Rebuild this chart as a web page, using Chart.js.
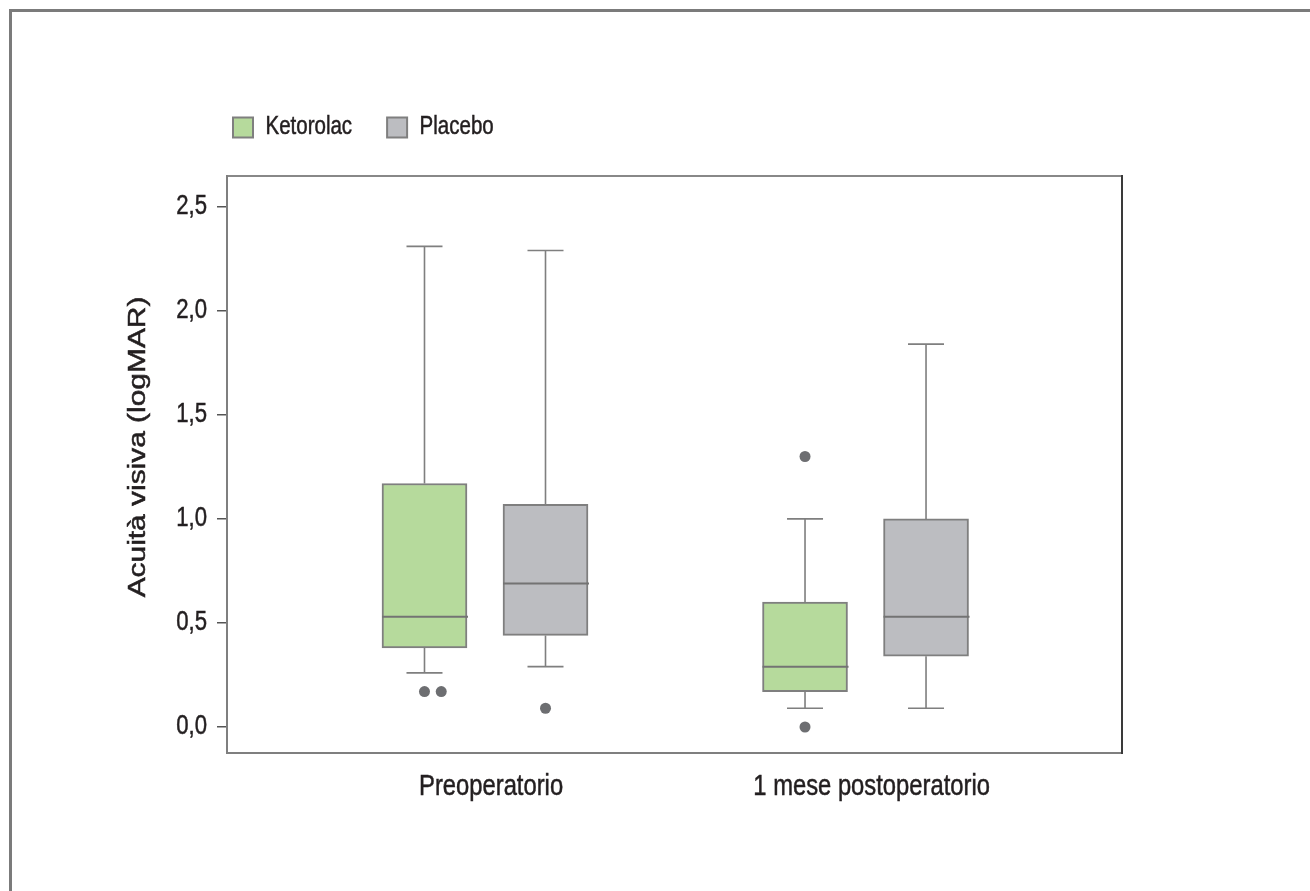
<!DOCTYPE html>
<html>
<head>
<meta charset="utf-8">
<title>Acuità visiva</title>
<script src="https://cdn.jsdelivr.net/npm/chart.js@4.4.1/dist/chart.umd.min.js"></script>
<style>
  html, body { margin: 0; padding: 0; background: #ffffff; overflow: hidden; }
  #wrap { position: relative; width: 1310px; height: 891px; }
  #frame { position: absolute; left: 9px; top: 9px; width: 1400px; height: 1000px;
           border-left: 3px solid #7b7b7b; border-top: 3px solid #7b7b7b; box-sizing: border-box; }
  canvas { position: absolute; left: 0; top: 0; }
</style>
</head>
<body>
<div id="wrap">
  <div id="frame"></div>
  <canvas id="chart" width="1310" height="891"></canvas>
</div>
<script>
// ---- data ----
const categories = ['Preoperatorio', '1 mese postoperatorio'];
const seriesNames = ['Ketorolac', 'Placebo'];

const ketorolacMin    = [0.26, 0.09];
const ketorolacQ1     = [0.38, 0.17];
const ketorolacMedian = [0.53, 0.29];
const ketorolacQ3     = [1.17, 0.60];
const ketorolacMax    = [2.31, 1.00];
const ketorolacOutliers = [[0.17, 0.17], [1.30, 0.00]];

const placeboMin    = [0.29, 0.09];
const placeboQ1     = [0.44, 0.34];
const placeboMedian = [0.69, 0.53];
const placeboQ3     = [1.07, 1.00];
const placeboMax    = [2.29, 1.84];
const placeboOutliers = [[0.09], []];

const yTickValues = [0, 0.5, 1.0, 1.5, 2.0, 2.5];
const yTickLabels = ['0,0', '0,5', '1,0', '1,5', '2,0', '2,5'];
const yTitle = 'Acuità visiva (logMAR)';

// ---- styling / geometry ----
const FONT = '"Liberation Sans", Arial, sans-serif';
const CONDENSE = 0.82;         // narrow type: glyphs squeezed horizontally
const TITLE_STRETCH = 1.30;    // y title is set long along its baseline
const TEXT = '#231f20';
const LINE = '#7f7f7f';
const SERIES_OFFSET = 0.159;   // box centre distance from the group centre (x units)
const LABEL_SHIFT = 0.016;     // category labels sit a little right of the group centre
const DUP_STEP = 0.044;        // sideways step for repeated outlier values
const CAP_HALF = 18;           // half width of whisker caps, px
const LEGEND_LEFT = 198;

const series = [
  { name: seriesNames[0], fill: '#b6da9c', min: ketorolacMin, q1: ketorolacQ1, med: ketorolacMedian, q3: ketorolacQ3, max: ketorolacMax, out: ketorolacOutliers, dx: -SERIES_OFFSET },
  { name: seriesNames[1], fill: '#bcbdc1', min: placeboMin, q1: placeboQ1, med: placeboMedian, q3: placeboQ3, max: placeboMax, out: placeboOutliers, dx: SERIES_OFFSET }
];

Chart.defaults.font.family = FONT;
Chart.defaults.color = TEXT;

const boxDatasets = series.map(s => ({
  type: 'bar',
  label: s.name,
  data: categories.map((c, i) => ({ x: i + 1 + s.dx, y: [s.q1[i], s.q3[i]] })),
  backgroundColor: s.fill,
  borderColor: LINE,
  borderWidth: 2,
  borderSkipped: false,
  barThickness: 85,
  grouped: false,
  xAxisID: 'x',
  yAxisID: 'y'
}));

const outlierDatasets = series.map(s => {
  const pts = [];
  categories.forEach((c, i) => {
    const seen = {};
    s.out[i].forEach(v => {
      const k = seen[v] || 0;
      seen[v] = k + 1;
      pts.push({ x: i + 1 + s.dx + k * DUP_STEP, y: v });
    });
  });
  return {
    type: 'scatter',
    label: s.name + ' outlier',
    data: pts,
    pointRadius: 5.5,
    pointHoverRadius: 5.5,
    pointBackgroundColor: '#6d6e71',
    pointBorderWidth: 0,
    xAxisID: 'x',
    yAxisID: 'y'
  };
});

// narrow, slightly heavy lettering: every text call on this canvas is squeezed horizontally
const narrowText = {
  id: 'narrowText',
  beforeInit(chart) {
    const ctx = chart.ctx;
    const fill = ctx.fillText;
    const measure = ctx.measureText;
    ctx.fillText = function (text, x, y, maxWidth) {
      this.save();
      this.translate(x, y);
      this.scale(CONDENSE, 1);
      if (maxWidth === undefined) fill.call(this, text, 0, 0);
      else fill.call(this, text, 0, 0, maxWidth / CONDENSE);
      this.strokeStyle = this.fillStyle;
      this.lineWidth = 0.5;
      this.strokeText(text, 0, 0);
      this.restore();
    };
    ctx.measureText = function (text) {
      const m = measure.call(this, text);
      return {
        width: m.width * CONDENSE,
        actualBoundingBoxAscent: m.actualBoundingBoxAscent,
        actualBoundingBoxDescent: m.actualBoundingBoxDescent,
        actualBoundingBoxLeft: m.actualBoundingBoxLeft * CONDENSE,
        actualBoundingBoxRight: m.actualBoundingBoxRight * CONDENSE
      };
    };
  },
  afterLayout(chart) {
    // legend row starts just right of the axis labels
    const lg = chart.legend;
    if (lg) {
      const dx = LEGEND_LEFT - lg.left;
      lg.left += dx;
      lg.right += dx;
    }
  }
};

// whiskers, caps and medians for each box, plus the rotated y title
const whiskerPlugin = {
  id: 'whiskers',
  beforeDatasetsDraw(chart) {
    const ctx = chart.ctx, y = chart.scales.y;
    ctx.save();
    ctx.strokeStyle = LINE;
    ctx.lineWidth = 1.6;
    series.forEach((s, di) => {
      chart.getDatasetMeta(di).data.forEach((bar, i) => {
        const cx = bar.x;
        const pairs = [[s.q3[i], s.max[i]], [s.q1[i], s.min[i]]];
        pairs.forEach(([from, to]) => {
          const y0 = y.getPixelForValue(from), y1 = y.getPixelForValue(to);
          ctx.beginPath();
          ctx.moveTo(cx, y0); ctx.lineTo(cx, y1);
          ctx.moveTo(cx - CAP_HALF, y1); ctx.lineTo(cx + CAP_HALF, y1);
          ctx.stroke();
        });
      });
    });
    ctx.restore();
  },
  afterDatasetsDraw(chart) {
    const ctx = chart.ctx, y = chart.scales.y;
    ctx.save();
    ctx.strokeStyle = '#737373';
    ctx.lineWidth = 2;
    series.forEach((s, di) => {
      chart.getDatasetMeta(di).data.forEach((bar, i) => {
        const half = bar.width / 2;
        const py = y.getPixelForValue(s.med[i]);
        ctx.beginPath();
        ctx.moveTo(bar.x - half, py); ctx.lineTo(bar.x + half + 1, py);
        ctx.stroke();
      });
    });
    ctx.restore();
  },
  afterDraw(chart) {
    const ctx = chart.ctx;
    ctx.save();
    ctx.translate(139, 447);
    ctx.rotate(-Math.PI / 2);
    ctx.scale(TITLE_STRETCH / CONDENSE, 1);
    ctx.font = '23px ' + FONT;
    ctx.fillStyle = TEXT;
    ctx.textAlign = 'center';
    ctx.textBaseline = 'middle';
    ctx.fillText(yTitle, 0, 0);
    ctx.restore();
  }
};

const X_MIN = 0.322, X_MAX = 2.674;
const Y_MIN = -0.125, Y_MAX = 2.648;

new Chart(document.getElementById('chart'), {
  type: 'bar',
  data: { datasets: [...boxDatasets, ...outlierDatasets] },
  options: {
    responsive: false,
    animation: false,
    devicePixelRatio: 1,
    layout: { padding: { left: 120, right: 188, top: 80, bottom: 78 } },
    plugins: {
      tooltip: { enabled: false },
      legend: {
        position: 'top',
        align: 'start',
        labels: {
          filter: item => item.datasetIndex < series.length,
          boxWidth: 20,
          boxHeight: 20,
          padding: 35,
          color: TEXT,
          font: { size: 25 }
        }
      }
    },
    scales: {
      x: {
        type: 'linear',
        position: 'bottom',
        offset: false,
        bounds: 'data',
        min: X_MIN, max: X_MAX,
        afterBuildTicks: sc => { sc.ticks = categories.map((c, i) => ({ value: i + 1 + LABEL_SHIFT })); },
        afterFit: sc => { sc.height = 60; },
        grid: { display: false, drawTicks: false, offset: false },
        border: { display: true, color: LINE, width: 2 },
        ticks: {
          autoSkip: false, maxRotation: 0, padding: 17,
          color: TEXT, font: { size: 29 },
          callback: (v, idx) => categories[idx]
        }
      },
      xTop: {
        type: 'linear',
        position: 'top',
        offset: false,
        min: X_MIN, max: X_MAX,
        afterFit: sc => { sc.height = 26; },
        grid: { display: false, drawTicks: false, offset: false },
        border: { display: true, color: '#888888', width: 2 },
        ticks: { display: false }
      },
      y: {
        type: 'linear',
        position: 'left',
        min: Y_MIN, max: Y_MAX,
        afterBuildTicks: sc => { sc.ticks = yTickValues.map(v => ({ value: v })); },
        afterFit: sc => { sc.width = 107; },
        grid: { drawOnChartArea: false, drawTicks: true, tickLength: 10, color: '#555555', lineWidth: 1.5 },
        border: { display: true, color: LINE, width: 2 },
        ticks: {
          padding: 10, color: TEXT, font: { size: 27 },
          callback: (v, idx) => yTickLabels[idx]
        }
      },
      yRight: {
        type: 'linear',
        position: 'right',
        min: Y_MIN, max: Y_MAX,
        afterFit: sc => { sc.width = 0; },
        grid: { display: false, drawTicks: false },
        border: { display: true, color: '#3a3a3a', width: 2 },
        ticks: { display: false }
      }
    }
  },
  plugins: [narrowText, whiskerPlugin]
});
</script>
</body>
</html>
